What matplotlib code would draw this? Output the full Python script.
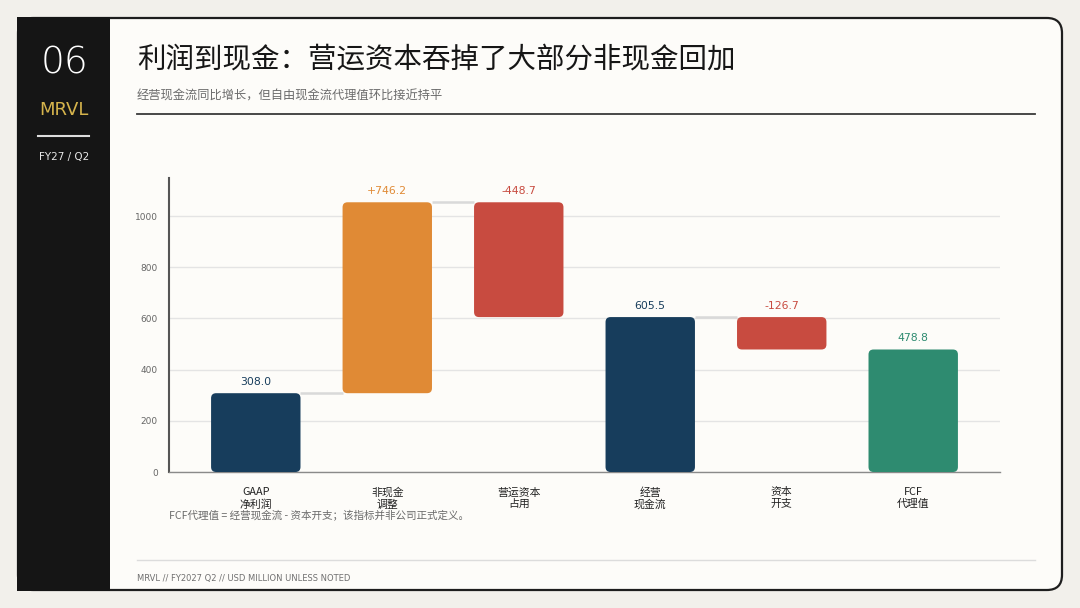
import numpy as np
import matplotlib.pyplot as plt
from matplotlib.patches import FancyBboxPatch, Rectangle

plt.rcParams['font.family'] = ['Noto Sans CJK SC', 'DejaVu Sans']

# data
categories = ['GAAP\n净利润', '非现金\n调整', '营运资本\n占用', '经营\n现金流', '资本\n开支', 'FCF\n代理值']
values = [308.0, 746.2, -448.7, 605.5, -126.7, 478.8]
kinds = ['total', 'delta', 'delta', 'total', 'delta', 'total']
labels = ['308.0', '+746.2', '-448.7', '605.5', '-126.7', '478.8']
yticks = [0, 200, 400, 600, 800, 1000]

navy = '#173d5c'
orange = '#e08a35'
red = '#c84b40'
green = '#2e8b70'
bar_colors = [navy, orange, red, navy, red, green]

W, H = 1080, 608
fig = plt.figure(figsize=(W / 100, H / 100), dpi=100)
fig.patch.set_facecolor('#f2f0eb')

def fx(px):
    return px / W

def fy(py):
    return 1 - py / H

# card
card = FancyBboxPatch((fx(18), fy(590)), fx(1062) - fx(18), fy(18) - fy(590),
                      boxstyle='round,pad=0,rounding_size=0.014',
                      mutation_aspect=W / H,
                      transform=fig.transFigure, facecolor='#fdfcf9',
                      edgecolor='#1e1e1e', linewidth=1.6, zorder=-2)
fig.add_artist(card)
side = Rectangle((fx(17.2), fy(590.8)), fx(110) - fx(17.2), fy(17.2) - fy(590.8),
                 transform=fig.transFigure, facecolor='#151515',
                 edgecolor='none', zorder=-1)
fig.add_artist(side)

fig.text(fx(64), fy(63), '06', color='white', fontsize=27, ha='center', va='center',
         family=['DejaVu Sans'], fontweight='light')
fig.text(fx(64), fy(110), 'MRVL', color='#d6b44c', fontsize=13, ha='center', va='center',
         family=['DejaVu Sans'])
fig.add_artist(plt.Line2D([fx(38), fx(89)], [fy(136), fy(136)], color='#dddddd',
                          lw=1.5, transform=fig.transFigure))
fig.text(fx(64), fy(157), 'FY27 / Q2', color='#e8e8e8', fontsize=7.5, ha='center',
         va='center', family=['DejaVu Sans'])

# header
fig.text(fx(137), fy(60), '利润到现金：营运资本吞掉了大部分非现金回加', fontsize=20.5,
         color='#161616', ha='left', va='center', fontweight='medium')
fig.text(fx(137), fy(96), '经营现金流同比增长，但自由现金流代理值环比接近持平', fontsize=8.8,
         color='#6b6b6b', ha='left', va='center')
fig.add_artist(plt.Line2D([fx(137), fx(1035)], [fy(114), fy(114)], color='#3a3a3a',
                          lw=1.3, transform=fig.transFigure))

# footer
fig.add_artist(plt.Line2D([fx(137), fx(1035)], [fy(560), fy(560)], color='#dcdcdc',
                          lw=1, transform=fig.transFigure))
fig.text(fx(137), fy(578), 'MRVL // FY2027 Q2 // USD MILLION UNLESS NOTED', fontsize=6,
         color='#707070', ha='left', va='center', family=['DejaVu Sans'])

# waterfall
bottoms, heights, tops = [], [], []
running = 0.0
for v, k in zip(values, kinds):
    if k == 'total':
        b, h = 0.0, v
        running = v
    else:
        b = running if v > 0 else running + v
        h = abs(v)
        running += v
    bottoms.append(b)
    heights.append(h)
    tops.append(b + h)

ax = fig.add_axes([fx(169), fy(472), fx(1000) - fx(169), fy(178) - fy(472)])
ax.set_facecolor('none')
ax.set_zorder(5)
x = np.arange(len(categories))
bw = 0.68
bars = ax.bar(x, heights, bottom=bottoms, width=bw, color=bar_colors, zorder=3)
ax.set_xlim(-0.66, len(categories) - 1 + 0.66)
ax.set_ylim(0, max(tops) * 1.09)

# rounded corners
fig.canvas.draw()
bb = ax.get_window_extent()
x_per_px = (ax.get_xlim()[1] - ax.get_xlim()[0]) / bb.width
y_per_px = (ax.get_ylim()[1] - ax.get_ylim()[0]) / bb.height
for rect in bars:
    rb = FancyBboxPatch((rect.get_x(), rect.get_y()), rect.get_width(), rect.get_height(),
                        boxstyle='round,pad=0,rounding_size=%f' % (5 * x_per_px),
                        mutation_aspect=y_per_px / x_per_px,
                        facecolor=rect.get_facecolor(), edgecolor='none', zorder=3)
    ax.add_patch(rb)
    rect.set_visible(False)

# connectors, only into the delta bars
for i in range(len(values) - 1):
    if kinds[i + 1] != 'delta':
        continue
    level = tops[i] if (kinds[i] == 'total' or values[i] > 0) else bottoms[i]
    ax.plot([x[i] + bw / 2, x[i + 1] - bw / 2], [level, level], color='#d9d9d9', lw=1.8,
            zorder=2, solid_capstyle='butt')

for xi, t, lab, c in zip(x, tops, labels, bar_colors):
    ax.text(xi, t + 11 * y_per_px, lab, ha='center', va='center', fontsize=7.8, color=c,
            family=['DejaVu Sans'])

ax.set_yticks(yticks)
ax.set_yticklabels([str(t) for t in yticks], fontsize=6.5, color='#666666',
                   family=['DejaVu Sans'])
ax.set_xticks(x)
ax.set_xticklabels(categories, fontsize=7.8, color='#222222', linespacing=1.2)
ax.tick_params(axis='y', length=0, pad=8)
ax.tick_params(axis='x', length=0, pad=11)
ax.grid(axis='y', color='#e4e4e4', lw=1, zorder=0)
for s in ['top', 'right']:
    ax.spines[s].set_visible(False)
ax.spines['left'].set_color('#555555')
ax.spines['left'].set_linewidth(1.5)
ax.spines['bottom'].set_color('#8a8a8a')
ax.spines['bottom'].set_linewidth(1)

fig.text(fx(169), fy(516), 'FCF代理值 = 经营现金流 - 资本开支；该指标并非公司正式定义。',
         fontsize=7.6, color='#6b6b6b', ha='left', va='center')

fig.savefig('out.png', dpi=100, facecolor=fig.get_facecolor())
